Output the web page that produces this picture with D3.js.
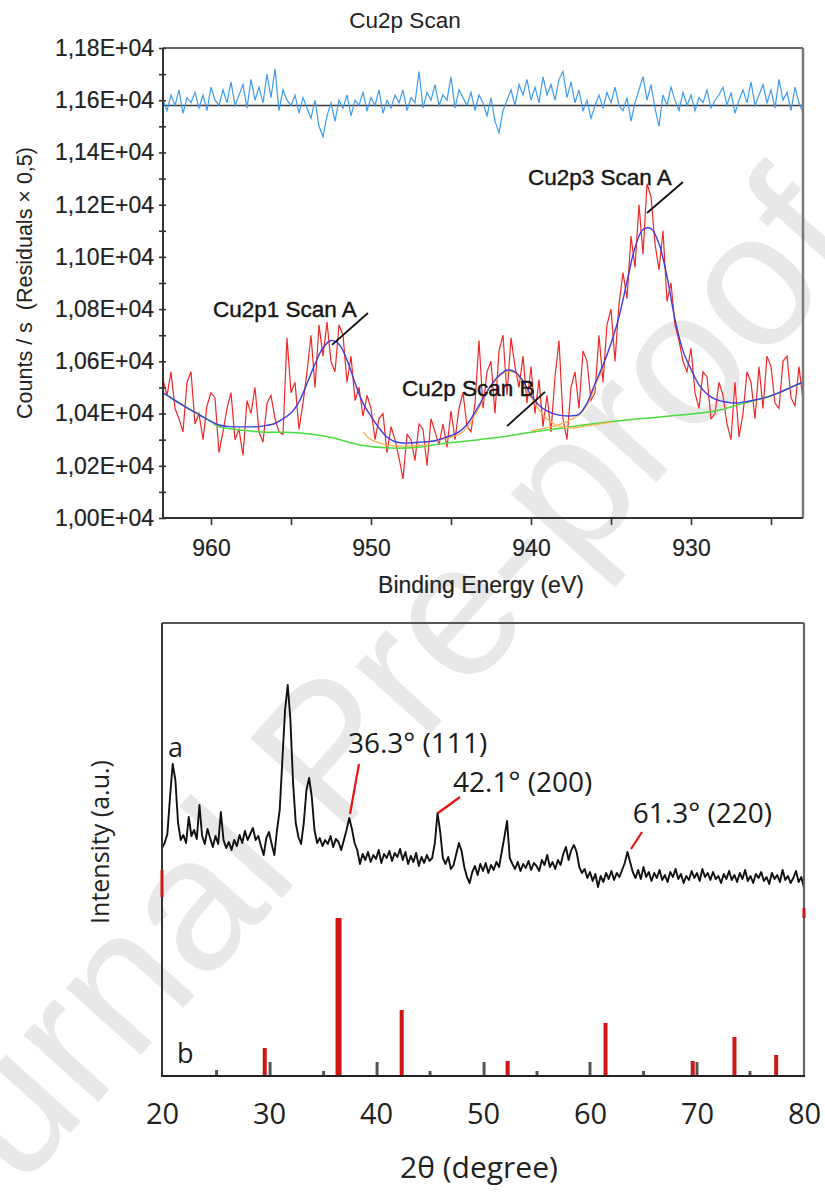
<!DOCTYPE html>
<html><head><meta charset="utf-8">
<script src="https://cdn.jsdelivr.net/npm/d3@7"></script>
<style>
html,body{margin:0;padding:0;background:#fff;}
svg{display:block;}
</style></head>
<body>
<svg id="chart" width="825" height="1192"></svg>
<script>
// ================= DATA =================
// --- XPS Cu2p scan (sampling grid 963 -> 923 eV, step 0.25 eV) ---
const xpsTitle = "Cu2p Scan";
const xpsGridStart = 963, xpsGridStep = 0.25;
const xpsRaw = [
10530,10470,10560,10420,10380,10330,10520,10560,10360,10400,
10300,10430,10480,10460,10250,10330,10420,10480,10300,10340,
10240,10450,10400,10500,10330,10290,10440,10470,10380,10330,
10320,10690,10480,10520,10340,10440,10560,10700,10500,10740,
10620,10750,10600,10560,10740,10700,10520,10620,10450,10500,
10390,10470,10420,10300,10380,10400,10250,10350,10300,10230,
10150,10320,10300,10220,10360,10340,10200,10380,10330,10280,
10360,10270,10410,10300,10420,10480,10350,10330,10440,10680,
10420,10560,10600,10400,10640,10700,10470,10690,10580,10500,
10620,10440,10580,10400,10530,10350,10470,10330,10540,10680,
10380,10300,10500,10560,10420,10640,10600,10450,10480,10700,
10520,10740,10800,10600,10820,10940,10840,11080,10960,11200,
11010,11280,11230,11050,10950,11100,10830,10900,10740,10680,
10600,10560,10650,10480,10420,10560,10540,10380,10400,10520,
10470,10360,10300,10520,10310,10400,10560,10520,10380,10580,
10420,10620,10580,10440,10420,10600,10620,10460,10430,10580,
10450];
const xpsResiduals = [
11600,11560,11620,11580,11640,11550,11610,11590,11630,11570,
11620,11560,11650,11600,11580,11640,11590,11670,11580,11620,
11660,11570,11680,11600,11650,11590,11700,11610,11720,11560,
11640,11600,11580,11620,11550,11610,11570,11530,11600,11500,
11460,11540,11590,11520,11600,11570,11620,11540,11600,11580,
11630,11560,11610,11580,11640,11550,11600,11570,11620,11590,
11640,11560,11610,11590,11710,11570,11630,11600,11660,11580,
11620,11600,11690,11570,11640,11610,11580,11630,11560,11620,
11590,11540,11610,11520,11475,11560,11600,11640,11580,11660,
11620,11680,11600,11650,11590,11690,11620,11660,11600,11680,
11710,11610,11670,11590,11640,11560,11600,11530,11580,11620,
11570,11630,11590,11650,11580,11560,11610,11520,11590,11640,
11690,11600,11660,11570,11500,11620,11580,11650,11600,11560,
11630,11580,11620,11560,11610,11590,11640,11570,11600,11620,
11650,11580,11630,11550,11600,11640,11590,11670,11580,11620,
11660,11590,11640,11570,11680,11600,11630,11560,11650,11590,
11550];
const residualZero = 11580;
// fit envelope (grid 963 -> 923 eV, step 0.5 eV)
const fitGridStep = 0.5;
const xpsFit = [
10480,10460,10440,10422,10405,10387,10370,10356,10351,10349,
10349,10349,10350,10355,10362,10380,10402,10445,10515,10590,
10652,10680,10665,10605,10518,10440,10390,10345,10310,10292,
10287,10288,10290,10292,10296,10305,10316,10330,10358,10405,
10458,10508,10546,10566,10560,10525,10470,10432,10410,10398,
10392,10391,10397,10440,10515,10585,10668,10770,10905,11035,
11105,11108,11050,10925,10760,10640,10570,10510,10475,10455,
10446,10441,10441,10446,10452,10459,10468,10480,10494,10508,
10520];
// Shirley-type background
const bgEnergy = [963,961,960,959.6,958,956.9,954.4,952.6,950.7,948.8,946.9,946.1,944,941.9,939.9,935.7,931.5,928.5,926.8,925,923];
const bgValues = [10479,10405,10370,10352,10336,10329,10326,10310,10280,10268,10272,10280,10295,10310,10329,10364,10390,10410,10438,10468,10520];
// fitted components (partially visible)
const compBEnergy = [946.5,945.5,944.5,944,943.5,943,942.5,942,941.5,941,940.5,940,939.5,939,938.5,938,937.5,937,936,935];
const compBValues = [10292,10302,10320,10345,10395,10450,10505,10540,10562,10555,10518,10462,10415,10380,10358,10348,10345,10348,10358,10367];
const compA3Energy = [940,939,938,937.5,937,936.5,936,935.5];
const compA3Values = [10335,10345,10362,10378,10395,10430,10505,10575];
const compA1Energy = [950.5,950,949.5,949,948.5,948,947.5,947,946.5];
const compA1Values = [10330,10300,10288,10280,10276,10275,10276,10278,10282];
const xpsYTicks = [10000,10200,10400,10600,10800,11000,11200,11400,11600,11800];
const xpsYMinor = [10100,10300,10500,10700,10900,11100,11300,11500,11700];
const xpsXTicks = [960,950,940,930];
const xpsXMinor = [955,945,935,925];
const xpsAnnotations = [
  {text:"Cu2p3 Scan A", e:940.19, v:11275, line:[[932.75,11168],[930.5,11287]]},
  {text:"Cu2p1 Scan A", e:959.88, v:10770, line:[[952.44,10663],[950.19,10785]]},
  {text:"Cu2p Scan B",  e:948.06, v:10467, line:[[941.5,10352],[939.12,10483]]}
];
const xpsXLabel = "Binding Energy (eV)";
const xpsYLabel = "Counts / s  (Residuals \u00d7 0,5)";

// --- XRD pattern (2θ grid 20 -> 80, step 0.25°) ---
const xrdGridStart = 20, xrdGridStep = 0.25;
const xrdPattern = [
228,233,242,279,312,296,253,236,
241,233,259,240,246,237,271,240,
232,247,238,229,240,232,264,236,
228,234,226,236,230,241,233,245,
236,242,248,236,240,230,221,238,
244,232,221,246,266,316,366,391,
356,293,253,239,232,253,286,298,
279,246,233,238,230,236,232,240,
229,237,234,226,236,246,258,247,
233,226,212,222,216,224,214,221,
217,226,213,222,218,225,215,223,
219,227,216,224,212,220,214,223,
210,219,213,221,215,218,233,263,
244,218,212,219,207,211,222,233,
225,209,199,193,204,210,201,212,
205,213,203,211,206,214,209,224,
239,255,218,212,207,214,205,212,
208,215,206,213,210,205,216,211,
221,209,214,207,216,211,222,229,
216,226,231,224,209,203,207,198,
204,195,202,189,200,194,203,197,
205,196,203,199,206,213,224,214,
204,198,206,197,209,199,204,195,
203,198,206,196,201,194,204,199,
207,197,202,193,200,196,205,198,
203,195,207,199,203,196,204,197,
200,193,202,197,205,196,201,194,
203,197,206,195,200,193,202,198,
204,195,199,192,203,197,201,194,
206,196,200,193,198,205,194,199,
188];
// reference sticks
const refRedAngle = [29.6,36.5,42.4,52.3,61.45,69.6,73.5,77.4];
const refRedInt   = [28,158,66,15,53,15,39,21];
const refGrayAngle = [25.1,30.1,35.1,40.1,45.05,50.1,55.05,60.0,65.0,70.0,74.95];
const refGrayInt   = [6,14,5,14,5,14,5,14,5,14,5];
const edgeMarks = [{t:20,h0:179,h1:206},{t:80,h0:158,h1:168}];
const xrdXTicks = [20,30,40,50,60,70,80];
const xrdAnnotations = [
  {text:"36.3\u00b0 (111)", t:37.38, h:323, line:[[37.57,262],[38.41,312]]},
  {text:"42.1\u00b0 (200)", t:47.2,  h:284, line:[[45.8,263],[47.85,279]]},
  {text:"61.3\u00b0 (220)", t:64.0,  h:253, line:[[63.83,227],[64.86,244]]}
];
const xrdSeriesLabels = [{text:"a", t:20.56, h:319},{text:"b", t:21.4, h:13}];
const xrdXLabel = "2\u03b8 (degree)";
const xrdYLabel = "Intensity (a.u.)";

// ================= DRAW =================
const svg = d3.select("#chart");
const sans = "'Liberation Sans', Arial, sans-serif";
const open = "'Open Sans', 'Noto Sans', sans-serif";

// watermark (behind)
svg.append("text")
  .attr("transform","translate(339,761) rotate(-48)")
  .attr("text-anchor","middle").attr("dy","0.26em")
  .style("font-family",sans).style("font-size","190px")
  .attr("fill","#e8e8e8").text("Journal Pre-proof");

// ---------- XPS ----------
const X1 = {l:163, r:803, t:48, b:518};
const xE = d3.scaleLinear().domain([963,923]).range([X1.l, X1.r]);
const yC = d3.scaleLinear().domain([10000,11800]).range([X1.b, X1.t]);

svg.append("defs").append("clipPath").attr("id","clip1")
  .append("rect").attr("x",X1.l).attr("y",X1.t).attr("width",X1.r-X1.l).attr("height",X1.b-X1.t);

const g1 = svg.append("g");
const plot1 = g1.append("g").attr("clip-path","url(#clip1)");

const rawPts = xpsRaw.map((v,i)=>[xpsGridStart - i*xpsGridStep, v]);
const resPts = xpsResiduals.map((v,i)=>[xpsGridStart - i*xpsGridStep, v]);
const fitPts = xpsFit.map((v,i)=>[xpsGridStart - i*fitGridStep, v]);
const bgPts = bgEnergy.map((e,i)=>[e,bgValues[i]]);
const cB = compBEnergy.map((e,i)=>[e,compBValues[i]]);
const cA3 = compA3Energy.map((e,i)=>[e,compA3Values[i]]);
const cA1 = compA1Energy.map((e,i)=>[e,compA1Values[i]]);

const lin = d3.line().x(d=>xE(d[0])).y(d=>yC(d[1]));
const smooth = d3.line().x(d=>xE(d[0])).y(d=>yC(d[1])).curve(d3.curveCatmullRom.alpha(0.5));

// residual zero line
plot1.append("line").attr("x1",X1.l).attr("x2",X1.r)
  .attr("y1",yC(residualZero)).attr("y2",yC(residualZero))
  .attr("stroke","#3a3a3a").attr("stroke-width",1.6);
plot1.append("path").datum(resPts).attr("d",lin)
  .attr("fill","none").attr("stroke","#3d9cf2").attr("stroke-width",1.2);

plot1.append("path").datum(rawPts).attr("d",lin)
  .attr("fill","none").attr("stroke","#f02828").attr("stroke-width",1.2);
plot1.append("path").datum(bgPts).attr("d",smooth)
  .attr("fill","none").attr("stroke","#48dc3c").attr("stroke-width",1.5);
[cA1,cB,cA3].forEach(c=>{
  plot1.append("path").datum(c).attr("d",smooth)
    .attr("fill","none").attr("stroke","#ffb04a").attr("stroke-width",1.3);
});
plot1.append("path").datum(fitPts).attr("d",smooth)
  .attr("fill","none").attr("stroke","#3d3ddc").attr("stroke-width",1.4);

// frame
g1.append("line").attr("x1",X1.l).attr("x2",X1.r).attr("y1",X1.t).attr("y2",X1.t).attr("stroke","#6a6a6a").attr("stroke-width",2);
g1.append("line").attr("x1",X1.r).attr("x2",X1.r).attr("y1",X1.t).attr("y2",X1.b).attr("stroke","#7a7a7a").attr("stroke-width",2.5);

// y axis
const fmtY = v => (v/10000).toFixed(2).replace('.', ',') + 'E+04';
const yAx = g1.append("g").attr("transform",`translate(${X1.l},0)`)
  .call(d3.axisLeft(yC).tickValues(xpsYTicks).tickFormat(fmtY).tickSize(4).tickPadding(5));
const yAxMin = g1.append("g").attr("transform",`translate(${X1.l},0)`)
  .call(d3.axisLeft(yC).tickValues(xpsYMinor).tickFormat("").tickSize(4));
[yAx,yAxMin].forEach(a=>{
  a.select(".domain").remove();
  a.selectAll(".tick line").attr("x1",3).attr("stroke","#333").attr("stroke-width",1.6);
});
yAx.selectAll("text").style("font-family",sans).style("font-size","23px").attr("fill","#222")
  .attr("stroke","#222").attr("stroke-width",0.2);

// x axis
const xAx = g1.append("g").attr("transform",`translate(0,${X1.b})`)
  .call(d3.axisBottom(xE).tickValues(xpsXTicks).tickFormat(d3.format("d")).tickSize(7).tickPadding(15));
const xAxMin = g1.append("g").attr("transform",`translate(0,${X1.b})`)
  .call(d3.axisBottom(xE).tickValues(xpsXMinor).tickFormat("").tickSize(7));
[xAx,xAxMin].forEach(a=>{
  a.select(".domain").remove();
  a.selectAll(".tick line").attr("stroke","#333").attr("stroke-width",1.6);
});
xAx.selectAll("text").style("font-family",sans).style("font-size","23px").attr("fill","#222")
  .attr("stroke","#222").attr("stroke-width",0.2);

g1.append("line").attr("x1",X1.l).attr("x2",X1.l).attr("y1",X1.t).attr("y2",X1.b).attr("stroke","#333").attr("stroke-width",2);
g1.append("line").attr("x1",X1.l).attr("x2",X1.r).attr("y1",X1.b).attr("y2",X1.b).attr("stroke","#333").attr("stroke-width",2);

// titles
g1.append("text").attr("x",405).attr("y",28).attr("text-anchor","middle")
  .style("font-family",sans).style("font-size","22.5px").attr("fill","#222").text(xpsTitle);
g1.append("text").attr("x",481).attr("y",593).attr("text-anchor","middle")
  .style("font-family",sans).style("font-size","23px").attr("fill","#222")
  .attr("stroke","#222").attr("stroke-width",0.2).text(xpsXLabel);
g1.append("text").attr("transform","translate(32,283) rotate(-90)").attr("text-anchor","middle")
  .style("font-family",sans).style("font-size","21.5px").style("white-space","pre").attr("fill","#222").text(xpsYLabel);

// annotations
xpsAnnotations.forEach(a=>{
  g1.append("line").attr("x1",xE(a.line[0][0])).attr("y1",yC(a.line[0][1]))
    .attr("x2",xE(a.line[1][0])).attr("y2",yC(a.line[1][1]))
    .attr("stroke","#111").attr("stroke-width",1.8);
  g1.append("text").attr("x",xE(a.e)).attr("y",yC(a.v))
    .style("font-family",sans).style("font-size","22.5px").attr("fill","#151515")
    .attr("stroke","#151515").attr("stroke-width",0.4).text(a.text);
});

// ---------- XRD ----------
const X2 = {l:162, r:804, t:623, b:1076};
const xT = d3.scaleLinear().domain([20,80]).range([X2.l, X2.r]);
const yI = d3.scaleLinear().domain([0,453]).range([X2.b, X2.t]);
const g2 = svg.append("g");

const xrdPts = xrdPattern.map((h,i)=>[xrdGridStart + i*xrdGridStep, h]);
g2.append("path").datum(xrdPts)
  .attr("d", d3.line().x(d=>xT(d[0])).y(d=>yI(d[1])))
  .attr("fill","none").attr("stroke","#111").attr("stroke-width",1.9).attr("stroke-linejoin","round");

// sticks
g2.selectAll(".gs").data(refGrayAngle.map((t,i)=>({t,h:refGrayInt[i]}))).enter()
  .append("line").attr("x1",d=>xT(d.t)).attr("x2",d=>xT(d.t))
  .attr("y1",yI(0)).attr("y2",d=>yI(d.h)).attr("stroke","#555").attr("stroke-width",3);
g2.selectAll(".rs").data(refRedAngle.map((t,i)=>({t,h:refRedInt[i]}))).enter()
  .append("line").attr("x1",d=>xT(d.t)).attr("x2",d=>xT(d.t))
  .attr("y1",yI(0)).attr("y2",d=>yI(d.h)).attr("stroke","#d01515")
  .attr("stroke-width",d=>d.h>100?6:4);

// frame
g2.append("line").attr("x1",X2.l).attr("x2",X2.r).attr("y1",X2.t).attr("y2",X2.t).attr("stroke","#555").attr("stroke-width",2);
g2.append("line").attr("x1",X2.r).attr("x2",X2.r).attr("y1",X2.t).attr("y2",X2.b).attr("stroke","#666").attr("stroke-width",2.2);
g2.append("line").attr("x1",X2.l).attr("x2",X2.l).attr("y1",X2.t).attr("y2",X2.b).attr("stroke","#333").attr("stroke-width",2);
g2.append("line").attr("x1",X2.l-1).attr("x2",X2.r+1).attr("y1",X2.b).attr("y2",X2.b).attr("stroke","#222").attr("stroke-width",2.2);

edgeMarks.forEach(m=>{
  g2.append("line").attr("x1",xT(m.t)).attr("x2",xT(m.t)).attr("y1",yI(m.h0)).attr("y2",yI(m.h1))
    .attr("stroke","#d01515").attr("stroke-width",3);
});

const xAx2 = g2.append("g").attr("transform",`translate(0,${X2.b})`)
  .call(d3.axisBottom(xT).tickValues(xrdXTicks).tickFormat(d3.format("d")).tickSize(0).tickPadding(27));
xAx2.select(".domain").remove();
xAx2.selectAll("text").style("font-family",open).style("font-size","29px").attr("fill","#222");

g2.append("text").attr("x",479).attr("y",1178).attr("text-anchor","middle")
  .style("font-family",open).style("font-size","30px").attr("fill","#222").text(xrdXLabel);
g2.append("text").attr("transform","translate(109,842) rotate(-90)").attr("text-anchor","middle")
  .style("font-family",open).style("font-size","25px").attr("fill","#222").text(xrdYLabel);

xrdAnnotations.forEach(a=>{
  g2.append("line").attr("x1",xT(a.line[0][0])).attr("y1",yI(a.line[0][1]))
    .attr("x2",xT(a.line[1][0])).attr("y2",yI(a.line[1][1]))
    .attr("stroke","#ee1111").attr("stroke-width",2.2);
  g2.append("text").attr("x",xT(a.t)).attr("y",yI(a.h))
    .style("font-family",open).style("font-size","28px").attr("fill","#1a1a1a").text(a.text);
});
xrdSeriesLabels.forEach(a=>{
  g2.append("text").attr("x",xT(a.t)).attr("y",yI(a.h))
    .style("font-family",open).style("font-size","27px").attr("fill","#1a1a1a").text(a.text);
});
</script>
</body></html>
